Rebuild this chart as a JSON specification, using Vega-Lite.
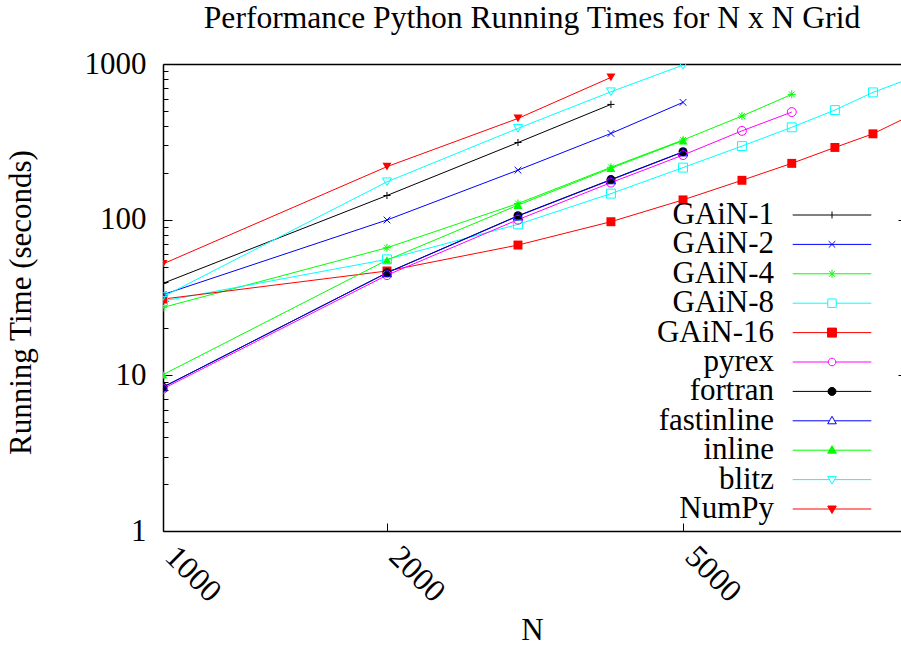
{
  "$schema": "https://vega.github.io/schema/vega-lite/v6.json",
  "width": 738,
  "height": 467,
  "autosize": {"type": "none"},
  "padding": {"left": 163, "top": 64, "right": 0, "bottom": 115},
  "background": "white",
  "config": {"view": {"stroke": null}, "font": "Liberation Serif"},
  "title": {"text": "Performance Python Running Times for N x N Grid", "font": "Liberation Serif", "fontSize": 31.6, "fontWeight": "normal", "color": "black", "anchor": "middle", "frame": "group", "baseline": "alphabetic", "offset": -12},
  "data": {"values": [
    {"series": "GAiN-1", "N": 1000, "time": 39},
    {"series": "GAiN-1", "N": 2000, "time": 143},
    {"series": "GAiN-1", "N": 3000, "time": 313},
    {"series": "GAiN-1", "N": 4000, "time": 550},
    {"series": "GAiN-2", "N": 1000, "time": 33},
    {"series": "GAiN-2", "N": 2000, "time": 99.5},
    {"series": "GAiN-2", "N": 3000, "time": 208},
    {"series": "GAiN-2", "N": 4000, "time": 358},
    {"series": "GAiN-2", "N": 5000, "time": 567},
    {"series": "GAiN-4", "N": 1000, "time": 27.3},
    {"series": "GAiN-4", "N": 2000, "time": 66},
    {"series": "GAiN-4", "N": 3000, "time": 127},
    {"series": "GAiN-4", "N": 4000, "time": 217},
    {"series": "GAiN-4", "N": 5000, "time": 325},
    {"series": "GAiN-4", "N": 6000, "time": 463},
    {"series": "GAiN-4", "N": 7000, "time": 638},
    {"series": "GAiN-8", "N": 1000, "time": 30},
    {"series": "GAiN-8", "N": 2000, "time": 55.6},
    {"series": "GAiN-8", "N": 3000, "time": 93.3},
    {"series": "GAiN-8", "N": 4000, "time": 147},
    {"series": "GAiN-8", "N": 5000, "time": 216},
    {"series": "GAiN-8", "N": 6000, "time": 297},
    {"series": "GAiN-8", "N": 7000, "time": 392},
    {"series": "GAiN-8", "N": 8000, "time": 506},
    {"series": "GAiN-8", "N": 9000, "time": 657},
    {"series": "GAiN-8", "N": 10000, "time": 794},
    {"series": "GAiN-16", "N": 1000, "time": 30.9},
    {"series": "GAiN-16", "N": 2000, "time": 46.8},
    {"series": "GAiN-16", "N": 3000, "time": 68.7},
    {"series": "GAiN-16", "N": 4000, "time": 97},
    {"series": "GAiN-16", "N": 5000, "time": 134},
    {"series": "GAiN-16", "N": 6000, "time": 179},
    {"series": "GAiN-16", "N": 7000, "time": 230},
    {"series": "GAiN-16", "N": 8000, "time": 291},
    {"series": "GAiN-16", "N": 9000, "time": 356},
    {"series": "GAiN-16", "N": 10000, "time": 455},
    {"series": "pyrex", "N": 1000, "time": 8.2},
    {"series": "pyrex", "N": 2000, "time": 44},
    {"series": "pyrex", "N": 3000, "time": 100},
    {"series": "pyrex", "N": 4000, "time": 173},
    {"series": "pyrex", "N": 5000, "time": 260},
    {"series": "pyrex", "N": 6000, "time": 372},
    {"series": "pyrex", "N": 7000, "time": 491},
    {"series": "fortran", "N": 1000, "time": 8.4},
    {"series": "fortran", "N": 2000, "time": 45.6},
    {"series": "fortran", "N": 3000, "time": 106},
    {"series": "fortran", "N": 4000, "time": 181},
    {"series": "fortran", "N": 5000, "time": 273},
    {"series": "fastinline", "N": 1000, "time": 8.4},
    {"series": "fastinline", "N": 2000, "time": 45.5},
    {"series": "fastinline", "N": 3000, "time": 105.5},
    {"series": "fastinline", "N": 4000, "time": 180},
    {"series": "fastinline", "N": 5000, "time": 272},
    {"series": "inline", "N": 1000, "time": 10.1},
    {"series": "inline", "N": 2000, "time": 55},
    {"series": "inline", "N": 3000, "time": 124},
    {"series": "inline", "N": 4000, "time": 214},
    {"series": "inline", "N": 5000, "time": 322},
    {"series": "blitz", "N": 1000, "time": 32},
    {"series": "blitz", "N": 2000, "time": 175},
    {"series": "blitz", "N": 3000, "time": 386},
    {"series": "blitz", "N": 4000, "time": 663},
    {"series": "blitz", "N": 5000, "time": 984},
    {"series": "NumPy", "N": 1000, "time": 52},
    {"series": "NumPy", "N": 2000, "time": 219},
    {"series": "NumPy", "N": 3000, "time": 447},
    {"series": "NumPy", "N": 4000, "time": 820}
  ]},
  "layer": [
    {
      "encoding": {
        "x": {"field": "N", "type": "quantitative", "scale": {"type": "log", "domain": [1000, 9816], "nice": false},
          "axis": {"orient": "bottom", "values": [1000, 2000, 5000], "format": "d", "grid": false,
            "labelAngle": 45, "labelAlign": "left", "labelBaseline": "alphabetic", "labelPadding": 35,
            "labelFont": "Liberation Serif", "labelFontSize": 32, "labelColor": "black", "labelOverlap": false, "labelFlush": false, "labelBound": false,
            "tickSize": -8, "tickColor": "black", "tickWidth": 1, "domainColor": "black", "domainWidth": 1.5,
            "title": "N", "titleFont": "Liberation Serif", "titleFontSize": 31, "titleFontWeight": "normal", "titleColor": "black",
            "titleBaseline": "alphabetic", "titleY": 108, "titleX": 369, "titleAlign": "center"}},
        "y": {"field": "time", "type": "quantitative", "scale": {"type": "log", "domain": [1, 1000], "nice": false},
          "axis": {"orient": "left", "values": [1,2,3,4,5,6,7,8,9,10,20,30,40,50,60,70,80,90,100,200,300,400,500,600,700,800,900,1000],
            "format": "d", "grid": false,
            "labelExpr": "indexof([1,10,100,1000], datum.value) >= 0 ? datum.label : ''",
            "labelAlign": "right", "labelBaseline": "middle", "labelPadding": 26,
            "labelFont": "Liberation Serif", "labelFontSize": 31, "labelColor": "black", "labelOverlap": false, "labelFlush": false, "labelBound": false,
            "tickSize": {"condition": {"test": "indexof([1,10,100,1000], datum.value) >= 0", "value": -9}, "value": -5},
            "tickColor": "black", "tickWidth": 1, "domainColor": "black", "domainWidth": 1.5,
            "title": "Running Time (seconds)", "titleFont": "Liberation Serif", "titleFontSize": 31, "titleFontWeight": "normal", "titleColor": "black",
            "titleBaseline": "alphabetic", "titleX": -133, "titleY": 238, "titleAlign": "center", "titleAngle": -90}},
        "color": {"field": "series", "type": "nominal",
          "scale": {"domain": ["GAiN-1", "GAiN-2", "GAiN-4", "GAiN-8", "GAiN-16", "pyrex", "fortran", "fastinline", "inline", "blitz", "NumPy"],
            "range": ["#000000", "#0000ff", "#00ff00", "#00ffff", "#ff0000", "#ff00ff", "#000000", "#0000ff", "#00ff00", "#00ffff", "#ff0000"]},
          "legend": null}
      },
      "layer": [
        {"mark": {"type": "line", "strokeWidth": 1, "clip": true}},
        {"transform": [{"filter": {"field": "series", "oneOf": ["GAiN-16", "fortran", "inline", "NumPy"]}}],
         "mark": {"type": "point", "filled": true, "opacity": 1, "size": 80, "clip": true},
         "encoding": {"shape": {"field": "series", "type": "nominal", "legend": null,
           "scale": {"domain": ["GAiN-1", "GAiN-2", "GAiN-4", "GAiN-8", "GAiN-16", "pyrex", "fortran", "fastinline", "inline", "blitz", "NumPy"],
             "range": ["M-0.8,0H0.8M0,-0.8V0.8", "M-0.75,-0.75L0.75,0.75M-0.75,0.75L0.75,-0.75", "M-0.9,0H0.9M0,-0.9V0.9M-0.65,-0.65L0.65,0.65M-0.65,0.65L0.65,-0.65", "square", "square", "circle", "circle", "triangle-up", "triangle-up", "triangle-down", "triangle-down"]}}}},
        {"transform": [{"filter": {"not": {"field": "series", "oneOf": ["GAiN-16", "fortran", "inline", "NumPy"]}}}],
         "mark": {"type": "point", "filled": false, "opacity": 1, "size": 80, "strokeWidth": 1, "clip": true},
         "encoding": {"shape": {"field": "series", "type": "nominal", "legend": null,
           "scale": {"domain": ["GAiN-1", "GAiN-2", "GAiN-4", "GAiN-8", "GAiN-16", "pyrex", "fortran", "fastinline", "inline", "blitz", "NumPy"],
             "range": ["M-0.8,0H0.8M0,-0.8V0.8", "M-0.75,-0.75L0.75,0.75M-0.75,0.75L0.75,-0.75", "M-0.9,0H0.9M0,-0.9V0.9M-0.65,-0.65L0.65,0.65M-0.65,0.65L0.65,-0.65", "square", "square", "circle", "circle", "triangle-up", "triangle-up", "triangle-down", "triangle-down"]}}}}
      ]
    },
    {
      "mark": {"type": "point", "opacity": 0},
      "encoding": {
        "x": {"field": "N", "type": "quantitative", "scale": {"type": "log", "domain": [1000, 9816], "nice": false},
          "axis": {"orient": "top", "labels": false, "ticks": false, "domain": true, "domainColor": "black", "domainWidth": 1.5, "grid": false, "title": null}},
        "y": {"field": "time", "type": "quantitative", "scale": {"type": "log", "domain": [1, 1000], "nice": false},
          "axis": {"orient": "right", "values": [10, 100], "labels": false, "domain": false, "ticks": true, "tickSize": -3, "tickColor": "black", "grid": false, "title": null}}
      }
    },
    {
      "transform": [{"filter": "false"}],
      "mark": {"type": "point", "opacity": 1, "strokeWidth": 1},
      "encoding": {
        "shape": {"field": "series", "type": "nominal",
          "scale": {"domain": ["GAiN-1", "GAiN-2", "GAiN-4", "GAiN-8", "GAiN-16", "pyrex", "fortran", "fastinline", "inline", "blitz", "NumPy"],
            "range": [
              "M-3.93,0H3.93M0,-0.35V0.35",
              "M-3.93,0H3.93M-0.33,-0.33L0.33,0.33M-0.33,0.33L0.33,-0.33",
              "M-3.93,0H3.93M0,-0.4V0.4M-0.3,-0.3L0.3,0.3M-0.3,0.3L0.3,-0.3",
              "M-3.93,0H-0.42M0.42,0H3.93M-0.42,-0.42H0.42V0.42H-0.42Z",
              "M-3.93,0H3.93M-0.45,-0.45H0.45V0.45H-0.45Z",
              "M-3.93,0H-0.38M0.38,0H3.93M-0.38,0A0.38,0.38 0 1,0 0.38,0A0.38,0.38 0 1,0 -0.38,0Z",
              "M-3.93,0H3.93M-0.4,0A0.4,0.4 0 1,0 0.4,0A0.4,0.4 0 1,0 -0.4,0Z",
              "M-3.93,0H-0.26M0.26,0H3.93M0,-0.45L0.43,0.3H-0.43Z",
              "M-3.93,0H3.93M0,-0.45L0.43,0.3H-0.43Z",
              "M-3.93,0H-0.26M0.26,0H3.93M0,0.45L0.43,-0.3H-0.43Z",
              "M-3.93,0H3.93M0,0.45L0.43,-0.3H-0.43Z"
            ]},
          "legend": {"title": null, "orient": "none", "legendX": 653.5, "legendY": 135.5, "padding": 0, "rowPadding": -2.6, "gridAlign": "none",
            "symbolSize": 400, "symbolStrokeWidth": 1,
            "labelFont": "Liberation Serif", "labelFontSize": 31, "labelColor": "black", "labelAlign": "right", "labelBaseline": "middle",
            "labelOffset": -73.5, "labelLimit": 400}},
        "stroke": {"field": "series", "type": "nominal",
          "scale": {"domain": ["GAiN-1", "GAiN-2", "GAiN-4", "GAiN-8", "GAiN-16", "pyrex", "fortran", "fastinline", "inline", "blitz", "NumPy"],
            "range": ["#000000", "#0000ff", "#00ff00", "#00ffff", "#ff0000", "#ff00ff", "#000000", "#0000ff", "#00ff00", "#00ffff", "#ff0000"]},
          "legend": {"title": null, "orient": "none", "legendX": 653.5, "legendY": 135.5, "padding": 0, "rowPadding": -2.6, "gridAlign": "none",
            "symbolSize": 400, "symbolStrokeWidth": 1,
            "labelFont": "Liberation Serif", "labelFontSize": 31, "labelColor": "black", "labelAlign": "right", "labelBaseline": "middle",
            "labelOffset": -73.5, "labelLimit": 400}},
        "fill": {"field": "series", "type": "nominal",
          "scale": {"domain": ["GAiN-1", "GAiN-2", "GAiN-4", "GAiN-8", "GAiN-16", "pyrex", "fortran", "fastinline", "inline", "blitz", "NumPy"],
            "range": ["transparent", "transparent", "transparent", "transparent", "#ff0000", "transparent", "#000000", "transparent", "#00ff00", "transparent", "#ff0000"]},
          "legend": {"title": null, "orient": "none", "legendX": 653.5, "legendY": 135.5, "padding": 0, "rowPadding": -2.6, "gridAlign": "none",
            "symbolSize": 400, "symbolStrokeWidth": 1,
            "labelFont": "Liberation Serif", "labelFontSize": 31, "labelColor": "black", "labelAlign": "right", "labelBaseline": "middle",
            "labelOffset": -73.5, "labelLimit": 400}}
      }
    }
  ],
  "resolve": {
    "scale": {"shape": "independent", "stroke": "independent", "fill": "independent"},
    "legend": {"shape": "independent", "stroke": "independent", "fill": "independent"},
    "axis": {"x": "independent", "y": "independent"}
  }
}
